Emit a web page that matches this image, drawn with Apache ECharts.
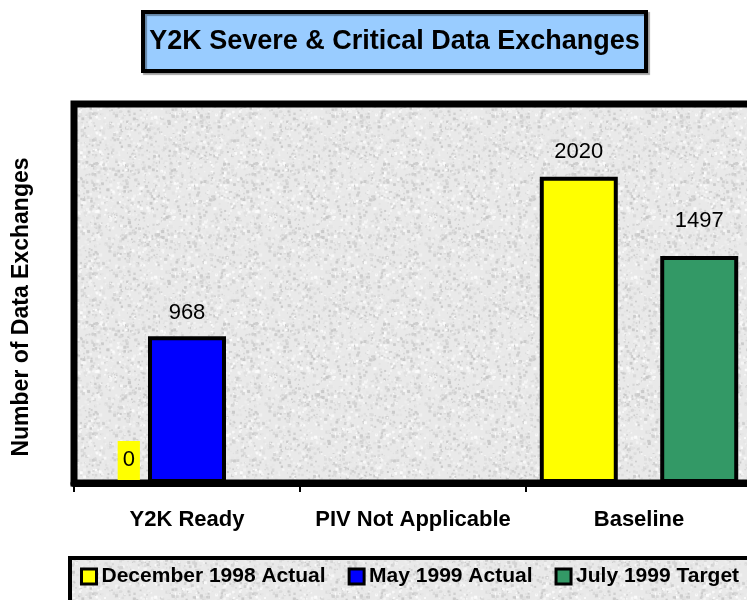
<!DOCTYPE html>
<html>
<head>
<meta charset="utf-8">
<script src="https://cdn.jsdelivr.net/npm/echarts@6/dist/echarts.min.js"></script>
<style>
html,body{margin:0;padding:0;background:#fff;overflow:hidden;}
#chart{width:760px;height:600px;}
</style>
</head>
<body>
<div id="chart"></div>
<script>
// ---- data ----
const categories = ['Y2K Ready', 'PIV Not Applicable', 'Baseline'];
const seriesNames = ['December 1998 Actual', 'May 1999 Actual', 'July 1999 Target'];
const dec1998 = [0, null, 2020];
const may1999 = [968, null, null];
const jul1999 = [null, null, 1497];
const yMin = 0;
const yMax = 2500;
const titleText = 'Y2K Severe & Critical Data Exchanges';
const yTitle = 'Number of Data Exchanges';

// ---- decorative granite texture (deterministic) ----
function makeGranite(base) {
  const c = document.createElement('canvas');
  c.width = 160; c.height = 160;
  const g = c.getContext('2d');
  g.fillStyle = base; g.fillRect(0, 0, 160, 160);
  let s = 12345;
  const rnd = () => { s = (s * 1103515245 + 12345) % 2147483648; return s / 2147483648; };
  for (let i = 0; i < 2600; i++) {
    const x = rnd() * 160, y = rnd() * 160;
    const r = 1 + rnd() * 2.2;
    const v = Math.round(200 + rnd() * 52);
    g.fillStyle = 'rgb(' + v + ',' + v + ',' + v + ')';
    g.fillRect(x, y, r, r);
  }
  return c;
}
const granite = makeGranite('#e9e9e9');
const pattern = { image: granite, repeat: 'repeat' };

const FONT = '"Liberation Sans", Arial, Helvetica, sans-serif';
const colors = ['#ffff00', '#0000ff', '#339966'];
const labelDist = [14, 12, 24];

function buildData(arr, idx) {
  return arr.map(v => {
    if (v === 0) {
      return {
        value: v,
        label: { position: 'top', distance: 1, offset: [2, 0], backgroundColor: colors[idx], padding: [8, 5, 9, 5] }
      };
    }
    return v;
  });
}

const allData = [dec1998, may1999, jul1999];
const series = allData.map((arr, i) => ({
  name: seriesNames[i],
  type: 'bar',
  data: buildData(arr, i),
  barWidth: 78,
  barGap: '-22.8%',
  itemStyle: { color: colors[i], borderColor: '#000', borderWidth: 4 },
  label: {
    show: true, position: 'top', distance: labelDist[i],
    color: '#000', fontFamily: FONT, fontSize: 22
  }
}));

const chart = echarts.init(document.getElementById('chart'), null, { renderer: 'canvas' });
chart.setOption({
  animation: false,
  backgroundColor: '#fff',
  grid: {
    left: 74, top: 104, width: 678, height: 379,
    show: true, backgroundColor: pattern, borderColor: '#000', borderWidth: 7
  },
  xAxis: {
    type: 'category', data: categories, boundaryGap: true,
    axisLine: { show: true, lineStyle: { color: '#000', width: 7 } },
    axisTick: { show: true, length: 9, lineStyle: { color: '#000', width: 2 } },
    axisLabel: { color: '#000', fontFamily: FONT, fontWeight: 'bold', fontSize: 22, margin: 26, interval: 0 }
  },
  yAxis: {
    type: 'value', min: yMin, max: yMax,
    axisLine: { show: false }, axisTick: { show: false },
    axisLabel: { show: false }, splitLine: { show: false }
  },
  legend: {
    left: 80, top: 566, width: 700, padding: 0, itemGap: 22, itemWidth: 15, itemHeight: 15,
    icon: 'rect',
    itemStyle: { borderColor: '#000', borderWidth: 3 },
    textStyle: { color: '#000', fontFamily: FONT, fontWeight: 'bold', fontSize: 21 },
    data: seriesNames
  },
  graphic: [
    {
      type: 'rect', z: -1, silent: true,
      shape: { x: 70, y: 558, width: 700, height: 60 },
      style: { fill: pattern, stroke: '#000', lineWidth: 4 }
    },
    {
      type: 'rect', silent: true,
      shape: { x: 143, y: 12, width: 503, height: 59 },
      style: { fill: '#99ccff', stroke: '#000', lineWidth: 4, shadowColor: 'rgba(0,0,0,0.35)', shadowOffsetX: 2, shadowOffsetY: 2, shadowBlur: 1 }
    },
    {
      type: 'text', silent: true, x: 394.5, y: 42,
      style: { text: titleText, fill: '#000', font: 'bold 27px ' + FONT, textAlign: 'center', textVerticalAlign: 'middle' }
    },
    {
      type: 'text', silent: true, x: 22, y: 307, rotation: Math.PI / 2,
      style: { text: yTitle, fill: '#000', font: 'bold 23px ' + FONT, textAlign: 'center', textVerticalAlign: 'middle' }
    }
  ],
  series: series
});
</script>
</body>
</html>
